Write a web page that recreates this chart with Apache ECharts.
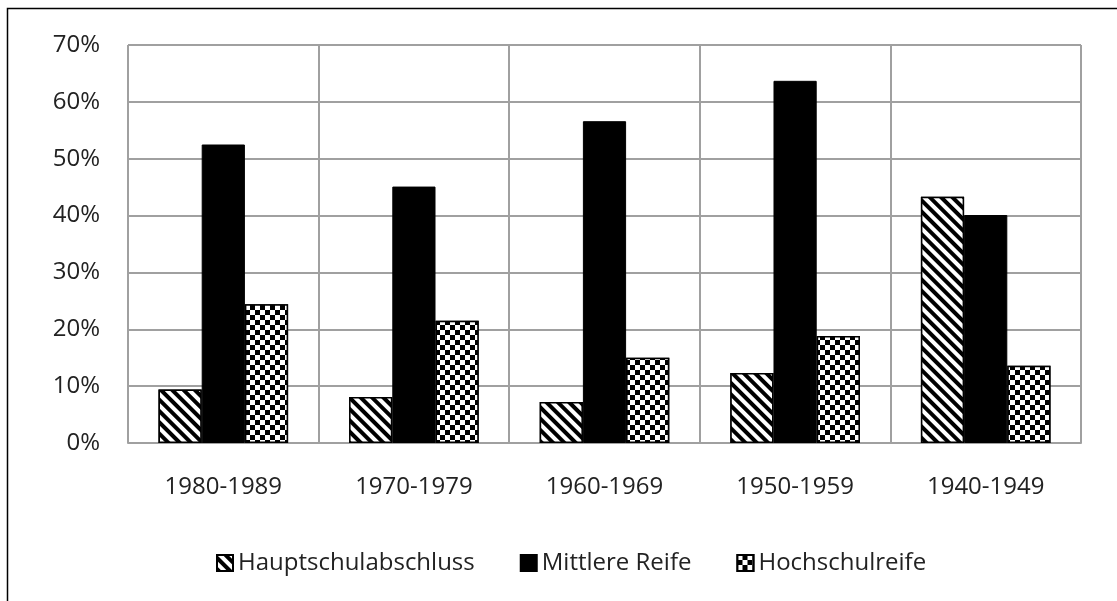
<!DOCTYPE html>
<html>
<head>
<meta charset="utf-8">
<script src="https://cdn.jsdelivr.net/npm/echarts@6/dist/echarts.min.js"></script>
<style>html,body{margin:0;padding:0;background:#fff}#c{width:1117px;height:601px}</style>
</head>
<body>
<div id="c"></div>
<script>
const categories = ['1980-1989', '1970-1979', '1960-1969', '1950-1959', '1940-1949'];
const hauptschul = [9.4, 8.1, 7.2, 12.3, 43.3];
const mittlere = [52.5, 45.1, 56.6, 63.7, 40.1];
const hochschul = [24.4, 21.5, 15.0, 18.8, 13.6];
const seriesNames = ['Hauptschulabschluss', 'Mittlere Reife', 'Hochschulreife'];
const yTicks = [0, 10, 20, 30, 40, 50, 60, 70];

const font = '"Open Sans", sans-serif';
const chart = echarts.init(document.getElementById('c'), null, {renderer: 'canvas'});

const stripeDecal = {
  symbol: 'rect', symbolSize: 1, color: '#000', backgroundColor: '#fff',
  dashArrayX: [1, 0], dashArrayY: [4, 4], rotation: Math.PI / 4
};
const checkerDecal = {
  symbol: 'rect', symbolSize: 1, color: '#000', backgroundColor: '#fff',
  dashArrayX: [[5, 5], [0, 5, 5, 0]], dashArrayY: [5, 0], rotation: 0
};

chart.setOption({
  animation: false,
  backgroundColor: '#fff',
  graphic: [{
    type: 'rect', silent: true,
    shape: {x: 7.5, y: 8.5, width: 1300, height: 800},
    style: {fill: 'none', stroke: '#000', lineWidth: 1.5}
  }],
  grid: {left: 128, top: 45, right: 36, bottom: 158, containLabel: false},
  legend: {
    top: 546, left: 211,
    itemWidth: 16, itemHeight: 16, itemGap: 45,
    textStyle: {fontFamily: font, fontSize: 24, color: '#222', padding: [0, 0, 0, 0]},
    data: seriesNames.map(n => ({name: n, icon: 'rect'}))
  },
  xAxis: {
    type: 'category', data: categories,
    axisLine: {show: true, lineStyle: {color: '#a0a0a0', width: 2}},
    axisTick: {show: false},
    splitLine: {show: true, lineStyle: {color: '#a0a0a0', width: 2}},
    axisLabel: {fontFamily: font, fontSize: 24, color: '#222', margin: 32}
  },
  yAxis: {
    type: 'value', min: 0, max: 70, interval: 10,
    axisLine: {show: false}, axisTick: {show: false},
    splitLine: {lineStyle: {color: '#a0a0a0', width: 2}},
    axisLabel: {fontFamily: font, fontSize: 24, color: '#222', margin: 28,
      formatter: v => yTicks.includes(v) ? v + '%' : ''}
  },
  series: [
    {name: seriesNames[0], type: 'bar', data: hauptschul, barGap: '0%', barCategoryGap: '32%',
      itemStyle: {color: '#fff', borderColor: '#000', borderWidth: 1.5, decal: stripeDecal}},
    {name: seriesNames[1], type: 'bar', data: mittlere, barGap: '0%', barCategoryGap: '32%',
      itemStyle: {color: '#000', borderColor: '#000', borderWidth: 1}},
    {name: seriesNames[2], type: 'bar', data: hochschul, barGap: '0%', barCategoryGap: '32%',
      itemStyle: {color: '#fff', borderColor: '#000', borderWidth: 1.5, decal: checkerDecal}}
  ]
});
</script>
</body>
</html>
